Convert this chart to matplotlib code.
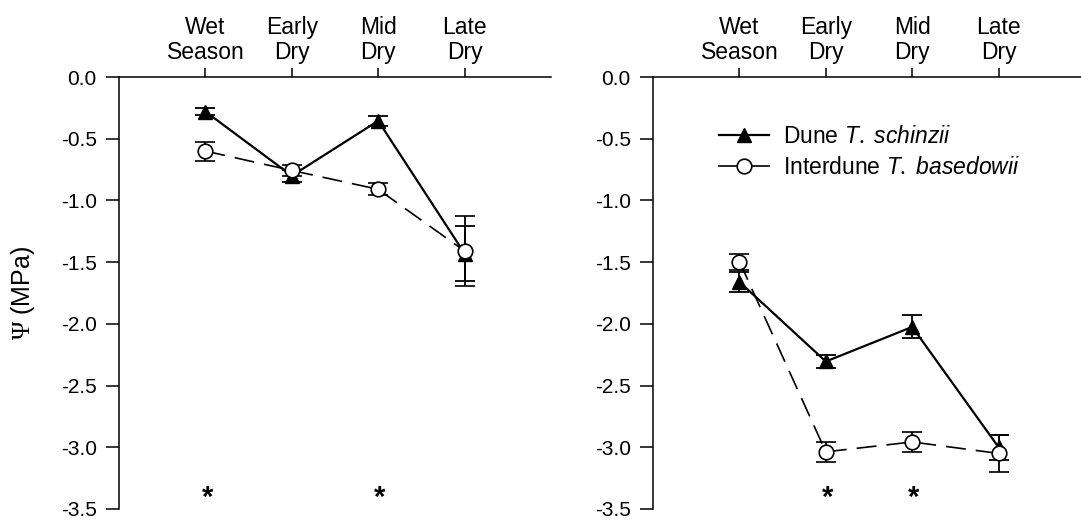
import matplotlib

matplotlib.use("Agg")
import matplotlib.pyplot as plt
from matplotlib.lines import Line2D

plt.rcParams["font.family"] = ["Liberation Sans", "DejaVu Sans"]
plt.rcParams["mathtext.fontset"] = "custom"
plt.rcParams["mathtext.rm"] = "Liberation Serif"
plt.rcParams["mathtext.it"] = "Liberation Sans:italic"
plt.rcParams["mathtext.sf"] = "Liberation Sans"

SEASONS = ["Wet\nSeason", "Early\nDry", "Mid\nDry", "Late\nDry"]
YTICKS = [0.0, -0.5, -1.0, -1.5, -2.0, -2.5, -3.0, -3.5]

# panel 1
dune_a = [-0.28, -0.80, -0.355, -1.43]
dune_a_se = [0.027, 0.047, 0.04, 0.22]
inter_a = [-0.60, -0.757, -0.91, -1.41]
inter_a_se = [0.077, 0.047, 0.05, 0.28]
stars_a = [1, 3]

# panel 2
dune_b = [-1.66, -2.305, -2.025, -3.00]
dune_b_se = [0.08, 0.05, 0.093, 0.10]
inter_b = [-1.495, -3.037, -2.957, -3.05]
inter_b_se = [0.065, 0.08, 0.083, 0.15]
stars_b = [2, 3]

FS = 16.5
FS_Y = 15


def draw_panel(ax, dune, dune_se, inter, inter_se, stars):
    x = [1, 2, 3, 4]
    ax.errorbar(x, dune, yerr=dune_se, color="black", lw=1.6, marker="^",
                ms=10.5, mfc="black", mec="black", capsize=7.5, elinewidth=1.3,
                capthick=1.3, zorder=3)
    ax.errorbar(x, inter, yerr=inter_se, color="black", lw=1.2,
                ls=(0, (12, 6)), marker="o", ms=10.5, mfc="white", mec="black",
                mew=1.2, capsize=7.5, elinewidth=1.3, capthick=1.3, zorder=4)
    for s in stars:
        ax.text(s + 0.02, -3.41, "*", ha="center", va="center", fontsize=21,
                fontweight="bold")

    ax.set_xlim(0, 5)
    ax.set_ylim(-3.5, 0.0)
    ax.set_yticks(YTICKS)
    ax.set_yticklabels([f"{v:.1f}" for v in YTICKS])
    ax.set_xticks(x)
    ax.set_xticklabels(SEASONS, linespacing=1.1)
    ax.xaxis.tick_top()
    ax.tick_params(axis="x", direction="out", length=6.5, width=1.1,
                   pad=3, labelsize=FS)
    ax.tick_params(axis="y", direction="out", length=9.5, width=1.1,
                   pad=6.5, labelsize=FS_Y)
    for side in ("bottom", "right"):
        ax.spines[side].set_visible(False)
    for side in ("top", "left"):
        ax.spines[side].set_linewidth(1.1)


fig = plt.figure(figsize=(10.81, 5.20), dpi=100)
ax1 = fig.add_axes([0.1101, 0.0212, 0.3996, 0.8307])
ax2 = fig.add_axes([0.6041, 0.0212, 0.3996, 0.8307])

draw_panel(ax1, dune_a, dune_a_se, inter_a, inter_a_se, stars_a)
draw_panel(ax2, dune_b, dune_b_se, inter_b, inter_b_se, stars_b)

ax1.set_ylabel(r"$\Psi$ (MPa)", fontsize=FS + 1.5)
ax1.yaxis.set_label_coords(-0.19, 0.5)

handles = [
    Line2D([], [], color="black", lw=1.6, marker="^", ms=10.5, mfc="black"),
    Line2D([], [], color="black", lw=1.2, marker="o", ms=10.5, mfc="white",
           mew=1.2),
]
labels = [r"Dune $\mathit{T.\ schinzii}$", r"Interdune $\mathit{T.\ basedowii}$"]
ax2.legend(handles, labels, loc="upper left", bbox_to_anchor=(0.152, 0.888),
           frameon=False, fontsize=FS, handlelength=2.2, handletextpad=0.6,
           labelspacing=0.35, borderpad=0, borderaxespad=0)

fig.savefig("out.png", dpi=100)
